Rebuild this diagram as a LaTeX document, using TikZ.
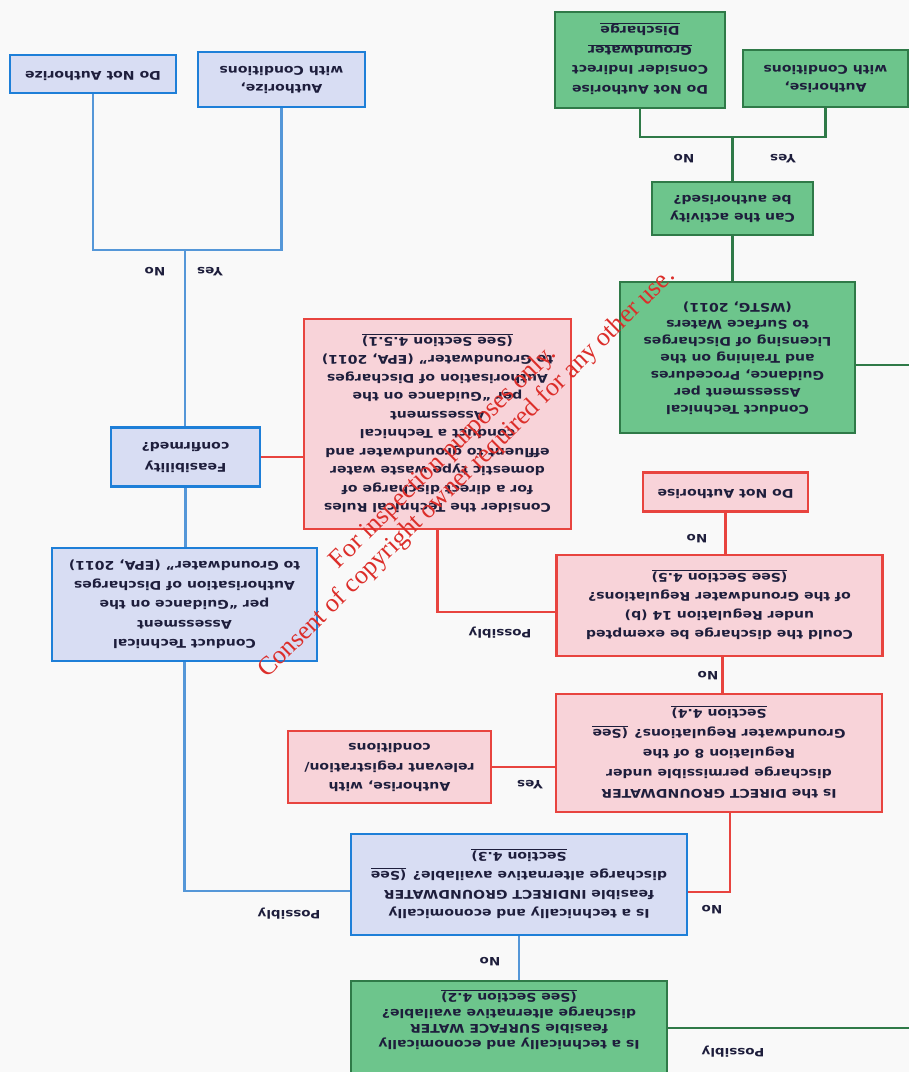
\documentclass[tikz,border=0pt]{standalone}
\usepackage{fontspec}
\setmainfont{DejaVu Sans}
\newfontfamily\wmfont{Liberation Serif}
\usepackage{graphicx}
\definecolor{bfill}{HTML}{D8DDF3}
\definecolor{bline}{HTML}{1E7FD8}
\definecolor{bconn}{HTML}{5597D8}
\definecolor{pfill}{HTML}{F8D3D9}
\definecolor{pline}{HTML}{E8443F}
\definecolor{gfill}{HTML}{6DC58C}
\definecolor{gline}{HTML}{2F7A48}
\definecolor{txt}{HTML}{1E1E3C}
\definecolor{wmred}{HTML}{DC2E2A}
\definecolor{bgc}{HTML}{F9F9F9}
\newcommand\FlipTxt[3]{\rotatebox[origin=c]{180}{\scalebox{1.17}[1]{\fontsize{#1}{#2}\selectfont\bfseries\begin{tabular}{@{}c@{}}#3\end{tabular}}}}
\begin{document}
\begin{tikzpicture}[x=1pt,y=-1pt,
  box/.style={draw, line width=2.6pt, inner sep=0pt, text=txt},
  bbox/.style={box, draw=bline, fill=bfill},
  pbox/.style={box, draw=pline, fill=pfill},
  gbox/.style={box, draw=gline, fill=gfill},
  bl/.style={draw=bconn, line width=2.2pt},
  rl/.style={draw=pline, line width=2.2pt},
  gl/.style={draw=gline, line width=2.2pt},
  lab/.style={inner sep=0pt, text=txt},
  wmk/.style={inner sep=0pt, text=wmred, font=\wmfont\fontsize{26}{28}\selectfont, rotate=44.5}]
\useasboundingbox (0,0) rectangle (909,1072);
\clip (0,0) rectangle (909,1072);
\fill[bgc] (0,0) rectangle (909,1072);

% blue top
\node[bbox, minimum width=166pt, minimum height=38pt] (dna) at (93,74) {\FlipTxt{12}{14}{Do Not Authorize}};
\node[bbox, minimum width=167pt, minimum height=55pt] (awc) at (281.5,79.5) {\FlipTxt{12}{18}{Authorize,\\with Conditions}};
% green top
\node[gbox, minimum width=170pt, minimum height=96pt] (gdn) at (640,60) {\FlipTxt{12}{19.5}{Do Not Authorise\\Consider Indirect\\\underline{Groundwater}\\\underline{Discharge}}};
\node[gbox, minimum width=165pt, minimum height=57pt] (gawc) at (825.5,78.5) {\FlipTxt{12}{18}{Authorise,\\with Conditions}};
\node[gbox, minimum width=161pt, minimum height=53pt] (can) at (732.5,208.5) {\FlipTxt{12}{18}{Can the activity\\be authorised?}};
\node[gbox, minimum width=235pt, minimum height=151pt] (gb) at (737.5,357.5) {\FlipTxt{12}{17}{Conduct Technical\\Assessment per\\Guidance, Procedures\\and Training on the\\Licensing of Discharges\\to Surface Waters\\(WSTG, 2011)}};
% pink
\node[pbox, minimum width=267pt, minimum height=210pt] (bp) at (437.5,424) {\FlipTxt{12}{18.5}{Consider the Technical Rules\\for a direct discharge of\\domestic type waste water\\effluent to groundwater and\\conduct a Technical\\Assessment\\per “Guidance on the\\Authorisation of Discharges\\to Groundwater” (EPA, 2011)\\\underline{(See Section 4.5.1)}}};
\node[pbox, minimum width=165pt, minimum height=39pt] (dna2) at (725.5,492) {\FlipTxt{12}{14}{Do Not Authorise}};
\node[pbox, minimum width=326pt, minimum height=101pt] (could) at (719.5,605.5) {\FlipTxt{12}{19}{Could the discharge be exempted\\under Regulation 14 (b)\\of the Groundwater Regulations?\\\underline{(See Section 4.5)}}};
\node[pbox, minimum width=326pt, minimum height=118pt] (direct) at (719,753) {\FlipTxt{12}{20}{Is the DIRECT GROUNDWATER\\discharge permissible under\\Regulation 8 of the\\Groundwater Regulations? \underline{(See}\\\underline{Section 4.4)}}};
\node[pbox, minimum width=203pt, minimum height=72pt] (ar) at (389.5,767) {\FlipTxt{12}{19.5}{Authorise, with\\relevant registration/\\conditions}};
% blue middle
\node[bbox, minimum width=149pt, minimum height=59pt] (feas) at (185.5,457) {\FlipTxt{12}{21}{Feasibility\\confirmed?}};
\node[bbox, minimum width=265pt, minimum height=113pt] (cta) at (184.5,604.5) {\FlipTxt{12}{19.5}{Conduct Technical\\Assessment\\per “Guidance on the\\Authorisation of Discharges\\to Groundwater” (EPA, 2011)}};
\node[bbox, minimum width=336pt, minimum height=101pt] (ind) at (519,884.5) {\FlipTxt{12}{19}{Is a technically and economically\\feasible INDIRECT GROUNDWATER\\discharge alternative available? \underline{(See}\\\underline{Section 4.3)}}};
% green bottom
\node[gbox, minimum width=316pt, minimum height=94pt] (sw) at (509,1028) {};
\node[lab] (swt) at (509,1020) {\FlipTxt{12}{15.5}{Is a technically and economically\\feasible SURFACE WATER\\discharge alternative available?\\\underline{(See Section 4.2)}}};

% connectors
\coordinate (tj) at (185,250);
\draw[bl] (dna.south) |- (tj) -| (awc.south);
\draw[bl] (tj) -- (tj |- feas.north);
\draw[bl] (feas.south) -- (feas.south |- cta.north);
\draw[bl] (cta.south) |- ([yshift=-6.5pt]ind.west);
\draw[rl] (feas.east) -- (feas.east -| bp.west);
\draw[rl] (bp.south) |- ([yshift=-6.5pt]could.west);
\draw[rl] (dna2.south) -- (dna2.south |- could.north);
\draw[rl] ([xshift=3pt]could.south) -- ([xshift=3pt]could.south |- direct.north);
\draw[rl] (ar.east) -- (ar.east -| direct.west);
\draw[rl] ([xshift=11pt]direct.south) |- ([yshift=-7.5pt]ind.east);
\draw[bl] (ind.south) -- (ind.south |- sw.north);
\coordinate (swR) at (909,1028);
\draw[gl] (sw.east) -- (swR);
\coordinate (gbR) at (909,365);
\draw[gl] ([yshift=-7.5pt]gb.east) -- (gbR);
\draw[gl] (can.south) -- (can.south |- gb.north);
\coordinate (gj) at (732.5,137);
\draw[gl] (can.north) -- (gj);
\draw[gl] (gdn.south) |- (gj) -| (gawc.south);

% labels
\node[lab] (l1) at (155,270) {\FlipTxt{11.5}{13}{No}};
\node[lab] (l2) at (210,270) {\FlipTxt{11.5}{13}{Yes}};
\node[lab] (l3) at (684,157) {\FlipTxt{11.5}{13}{No}};
\node[lab] (l4) at (783,157) {\FlipTxt{11.5}{13}{Yes}};
\node[lab] (l5) at (697,537) {\FlipTxt{11.5}{13}{No}};
\node[lab] (l6) at (708,674) {\FlipTxt{11.5}{13}{No}};
\node[lab] (l7) at (530,783) {\FlipTxt{11.5}{13}{Yes}};
\node[lab] (l8) at (712,908) {\FlipTxt{11.5}{13}{No}};
\node[lab] (l9) at (289,913) {\FlipTxt{11.5}{13}{Possibly}};
\node[lab] (l10) at (500,632) {\FlipTxt{11.5}{13}{Possibly}};
\node[lab] (l11) at (490,960) {\FlipTxt{11.5}{13}{No}};
\node[lab] (l12) at (733,1051) {\FlipTxt{11.5}{13}{Possibly}};

% watermark
\node[wmk] (wm1) at (443.5,457.5) {For inspection purposes only.};
\node[wmk] (wm2) at (467,473.5) {Consent of copyright owner required for any other use.};
\end{tikzpicture}
\end{document}
